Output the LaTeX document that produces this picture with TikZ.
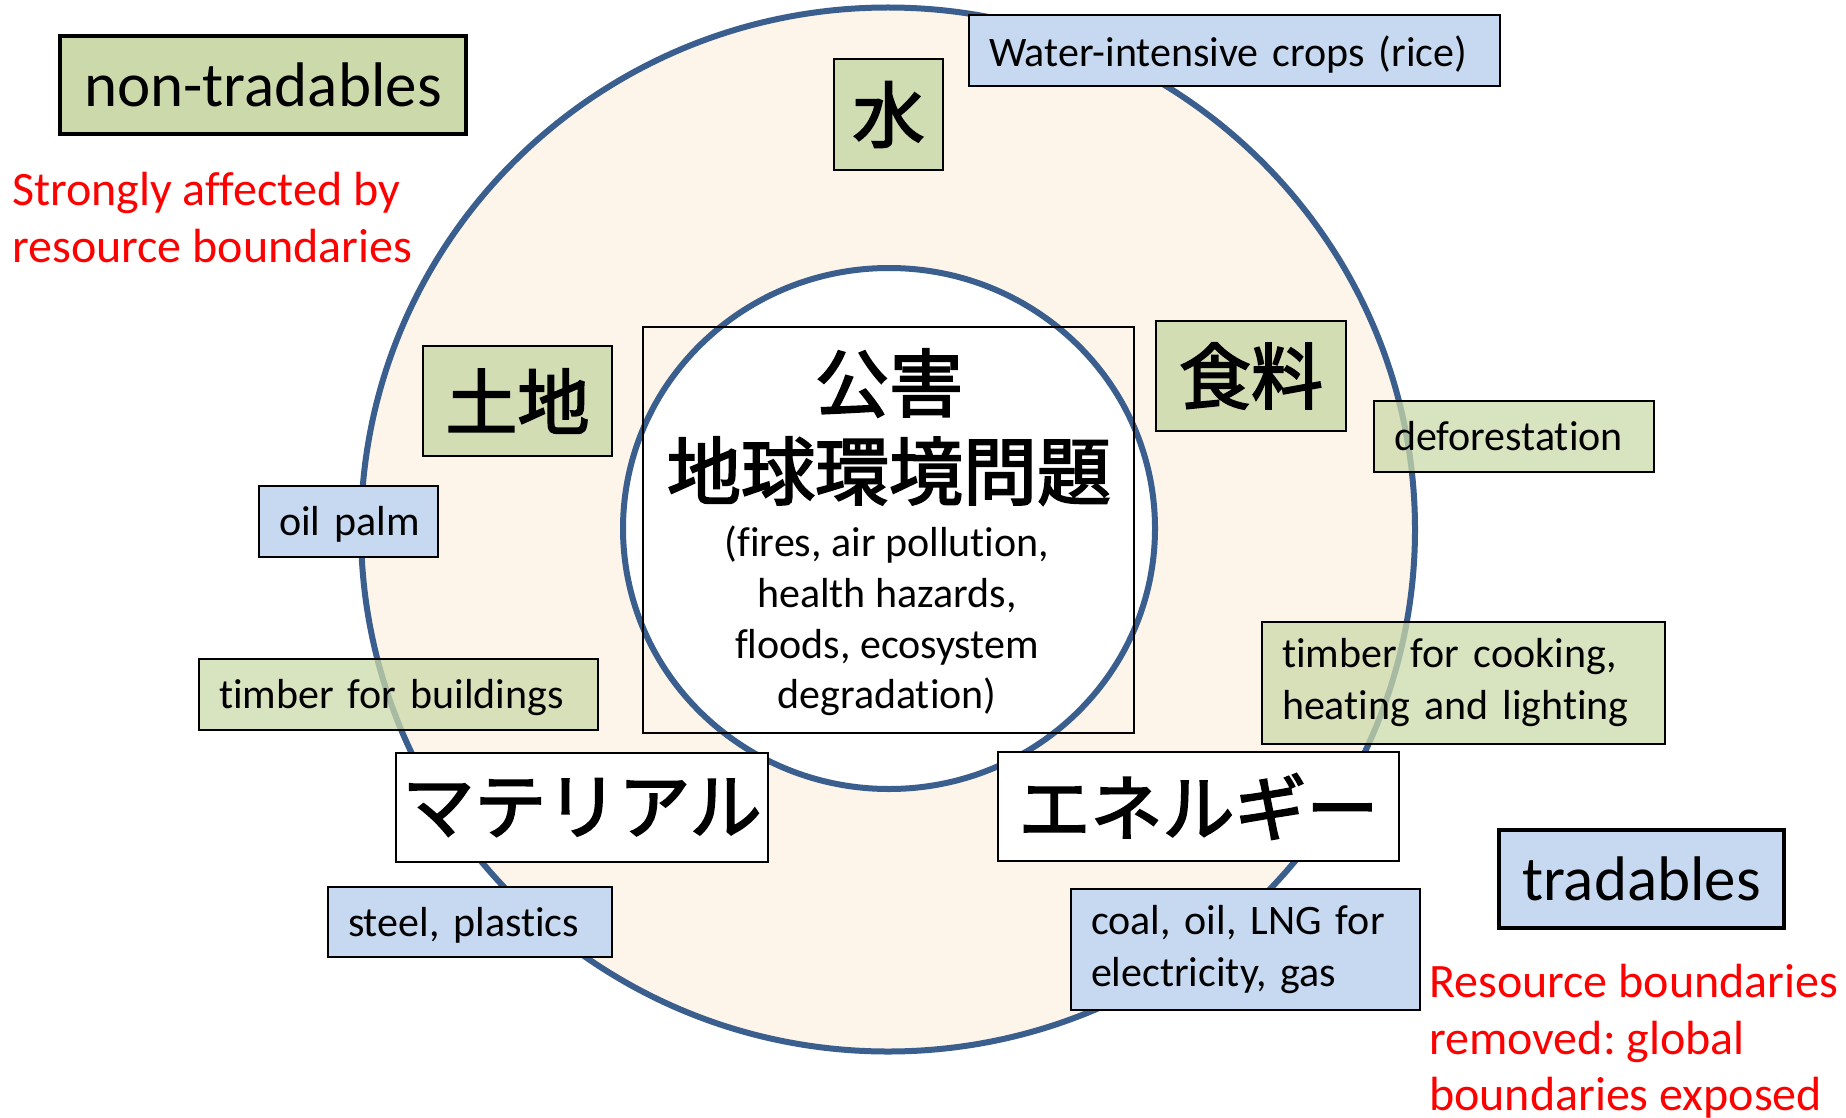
\documentclass[tikz,border=0pt]{standalone}
\usepackage{fontspec}
\setmainfont{Carlito}[Ligatures=NoCommon]
\newfontfamily\jp{Noto Sans CJK JP}[FakeBold=2.5]
\usetikzlibrary{shapes.geometric}
\definecolor{peach}{HTML}{FDF4EA}
\definecolor{ringc}{HTML}{3A5F8E}
\definecolor{gfill}{HTML}{CCDAAB}
\definecolor{bfill}{HTML}{C6D9F1}
\begin{document}
\begin{tikzpicture}[x=1pt,y=-1pt,
  every node/.append style={execute at begin node=\frenchspacing},
  ring/.style={ellipse, draw=ringc, line width=6, inner sep=0},
  lbl/.style={draw=black, line width=2, inner xsep=20, inner ysep=0, align=left,
    font=\fontsize{42}{51}\selectfont, text height=32, text depth=4, anchor=center},
  mlbl/.style={draw=black, line width=2, inner xsep=20, inner ysep=0,
    font=\fontsize{42}{52}\selectfont, align=left, anchor=center},
  jbox/.style={draw=black, line width=2, inner sep=0,
    font=\jp\fontsize{72}{80}\selectfont, align=center},
  head/.style={draw=black, line width=3.5, inner sep=0,
    font=\fontsize{63}{76}\selectfont, align=center},
  note/.style={text=red, inner sep=0, font=\fontsize{48}{57}\selectfont, anchor=base west},
  jbig/.style={inner sep=0, font=\jp\fontsize{74}{80}\selectfont},
  green/.style={fill=gfill},
  greent/.style={fill=gfill, fill opacity=0.75, text opacity=1},
  blue/.style={fill=bfill},
]
\useasboundingbox (0,0) rectangle (1846,1118);
\fill[white] (0,0) rectangle (1846,1118);

% rings
\node[ring, fill=peach, minimum width=1054, minimum height=1044] (outer) at (888,529.5) {};
\node[ring, fill=white, minimum width=532, minimum height=521] (inner) at (889,528.5) {};
\node[draw=black, line width=1.6, inner sep=0, minimum width=491, minimum height=406] (frame) at (888.5,530) {};

% centre text
\node[jbig] (kogai) at (889,383) {公害};
\node[jbig] (chikyu) at (889,471) {地球環境問題};
\node[inner sep=0, font=\fontsize{42}{50.7}\selectfont, align=center] (detail) at (887,621)
  {(fires, air pollution,\\ health hazards,\\ floods, ecosystem\\ degradation)};

% category boxes
\node[jbox, green, fill opacity=0.9, text opacity=1, minimum width=109, minimum height=111] (mizu) at (888.5,114.5) {水};
\node[jbox, green, fill opacity=0.85, text opacity=1, minimum width=189, minimum height=110] (tochi) at (517.5,401) {土地};
\node[jbox, green, fill opacity=0.85, text opacity=1, minimum width=190, minimum height=110] (shokuryo) at (1251,376) {食料};
\node[jbox, fill=white, minimum width=372, minimum height=109] (material) at (582,807.5) {マテリアル};
\node[jbox, fill=white, minimum width=401, minimum height=109] (energy) at (1198.5,806.5) {エネルギー};

% labels
\node[lbl, blue, text height=35, text depth=2, text width=491, minimum height=71] (water) at (1234.5,50.5) {\mbox{Water-intensive crops (rice)}};
\node[lbl, greent, text width=240, minimum height=71] (defor) at (1514,436.5) {\mbox{deforestation}};
\node[lbl, blue, text width=139, minimum height=71] (oilpalm) at (348.5,521.5) {\mbox{oil palm}};
\node[lbl, greent, text width=359, minimum height=71] (timberb) at (398.5,694.5) {\mbox{timber for buildings}};
\node[mlbl, greent, text width=363, minimum height=122] (timberc) at (1463.5,683) {timber for cooking,\\heating and lighting};
\node[lbl, blue, text width=244, minimum height=70] (steel) at (470,922) {\mbox{steel, plastics}};
\node[mlbl, blue, text width=309, minimum height=121] (coal) at (1245.5,949.5) {coal, oil, LNG for\\electricity, gas};

% headings
\node[head, green, minimum width=406, minimum height=98] (nontrad) at (263,85) {non-tradables};
\node[head, blue, minimum width=285, minimum height=98] (trad) at (1641.5,879) {tradables};

% notes
\node[note] (n1a) at (12,205) {Strongly affected by};
\node[note] (n1b) at (12,262) {resource boundaries};
\node[note] (n2a) at (1429,997) {Resource boundaries};
\node[note] (n2b) at (1429,1054) {removed: global};
\node[note] (n2c) at (1429,1110) {boundaries exposed};
\end{tikzpicture}
\end{document}
